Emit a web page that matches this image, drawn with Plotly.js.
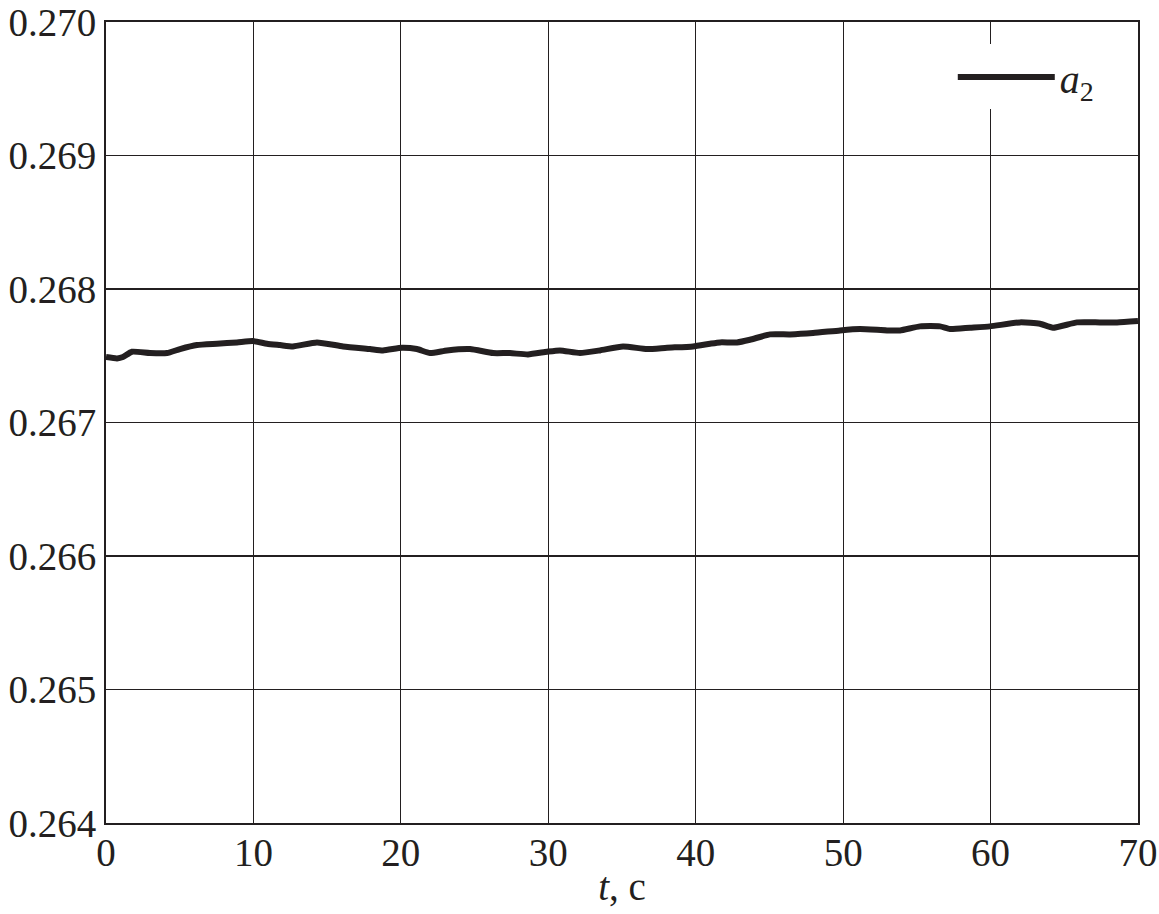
<!DOCTYPE html>
<html>
<head>
<meta charset="utf-8">
<script src="https://cdn.plot.ly/plotly-3.0.1.min.js"></script>
<style>html,body{margin:0;padding:0;background:#fff;}#chart{width:1159px;height:914px;}</style>
</head>
<body>
<div id="chart"></div>
<script>
var timeS = [0, 0.75, 1.15, 1.76, 2.98, 4.14, 5.02, 6.17, 7.53, 8.89, 9.97, 10.92, 11.8, 12.68, 14.31, 16.08, 17.91, 18.79, 20.08, 21.09, 21.98, 23.13, 24.69, 26.25, 27.4, 28.62, 29.91, 30.79, 32.15, 33.51, 35.07, 36.7, 38.05, 39.82, 40.97, 41.65, 42.8, 43.68, 45.04, 46.4, 47.96, 49.79, 51.14, 52.97, 53.86, 55.21, 56.57, 57.25, 58.6, 59.96, 62.0, 63.35, 64.23, 65.86, 67.42, 68.58, 70.0];
var a2 = [0.26749, 0.26748, 0.26749, 0.26753, 0.26752, 0.26752, 0.26755, 0.26758, 0.26759, 0.2676, 0.26761, 0.26759, 0.26758, 0.26757, 0.2676, 0.26757, 0.26755, 0.26754, 0.26756, 0.26755, 0.26752, 0.26754, 0.26755, 0.26752, 0.26752, 0.26751, 0.26753, 0.26754, 0.26752, 0.26754, 0.26757, 0.26755, 0.26756, 0.26757, 0.26759, 0.2676, 0.2676, 0.26762, 0.26766, 0.26766, 0.26767, 0.26769, 0.2677, 0.26769, 0.26769, 0.26772, 0.26772, 0.2677, 0.26771, 0.26772, 0.26775, 0.26774, 0.26771, 0.26775, 0.26775, 0.26775, 0.26776];
var seriesName = "<i>a</i><sub>2</sub>";
var xTitle = "<i>t</i>, с";

var font = "Liberation Serif, Times New Roman, serif";
var ink = "#231f20";
var trace = {
  x: timeS, y: a2, type: "scatter", mode: "lines", name: seriesName,
  line: {color: ink, width: 6, shape: "spline", smoothing: 0.5}
};
var layout = {
  width: 1159, height: 914,
  margin: {l: 106, r: 21, t: 22, b: 91},
  paper_bgcolor: "#fff", plot_bgcolor: "#fff",
  font: {family: font, size: 39, color: ink},
  showlegend: true,
  legend: {
    x: 0.962, y: 0.972, xanchor: "right", yanchor: "top",
    bgcolor: "#fff", borderwidth: 0, itemwidth: 97,
    font: {family: font, size: 40, color: ink}
  },
  xaxis: {
    range: [0, 70], dtick: 10, tick0: 0,
    showgrid: true, gridcolor: ink, gridwidth: 1.2,
    showline: true, linecolor: ink, linewidth: 2, mirror: true,
    zeroline: false, ticks: "", ticklen: 0, ticklabelstandoff: -6,
    tickfont: {family: font, size: 39, color: ink},
    title: {text: xTitle, font: {family: font, size: 39, color: ink}, standoff: 0}
  },
  yaxis: {
    range: [0.264, 0.270], dtick: 0.001, tick0: 0.264, tickformat: ".3f",
    showgrid: true, gridcolor: ink, gridwidth: 1.2,
    showline: true, linecolor: ink, linewidth: 2, mirror: true,
    zeroline: false, ticks: "", ticklen: 0,
    tickfont: {family: font, size: 39, color: ink}
  }
};
Plotly.newPlot("chart", [trace], layout, {displayModeBar: false, staticPlot: true});
</script>
</body>
</html>
